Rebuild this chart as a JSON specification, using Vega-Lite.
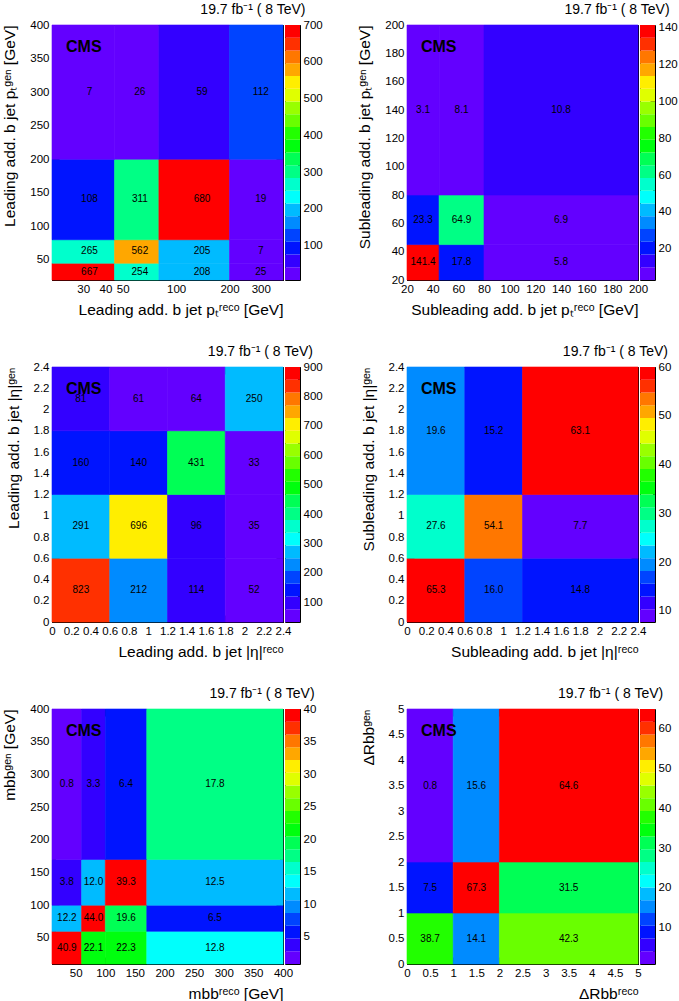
{
  "$schema": "https://vega.github.io/schema/vega-lite/v6.json",
  "background": "white",
  "padding": {"left": 2, "top": 2, "right": 0, "bottom": 0},
  "datasets": {
    "cells": [
      {"p":1,"x0":20,"x1":45,"y0":20,"y1":45,"xm":32.5,"ym":32.5,"v":667},
      {"p":1,"x0":45,"x1":80,"y0":20,"y1":45,"xm":62.5,"ym":32.5,"v":254},
      {"p":1,"x0":80,"x1":200,"y0":20,"y1":45,"xm":140,"ym":32.5,"v":208},
      {"p":1,"x0":200,"x1":400,"y0":20,"y1":45,"xm":300,"ym":32.5,"v":25},
      {"p":1,"x0":20,"x1":45,"y0":45,"y1":80,"xm":32.5,"ym":62.5,"v":265},
      {"p":1,"x0":45,"x1":80,"y0":45,"y1":80,"xm":62.5,"ym":62.5,"v":562},
      {"p":1,"x0":80,"x1":200,"y0":45,"y1":80,"xm":140,"ym":62.5,"v":205},
      {"p":1,"x0":200,"x1":400,"y0":45,"y1":80,"xm":300,"ym":62.5,"v":7},
      {"p":1,"x0":20,"x1":45,"y0":80,"y1":200,"xm":32.5,"ym":140,"v":108},
      {"p":1,"x0":45,"x1":80,"y0":80,"y1":200,"xm":62.5,"ym":140,"v":311},
      {"p":1,"x0":80,"x1":200,"y0":80,"y1":200,"xm":140,"ym":140,"v":680},
      {"p":1,"x0":200,"x1":400,"y0":80,"y1":200,"xm":300,"ym":140,"v":19},
      {"p":1,"x0":20,"x1":45,"y0":200,"y1":400,"xm":32.5,"ym":300,"v":7},
      {"p":1,"x0":45,"x1":80,"y0":200,"y1":400,"xm":62.5,"ym":300,"v":26},
      {"p":1,"x0":80,"x1":200,"y0":200,"y1":400,"xm":140,"ym":300,"v":59},
      {"p":1,"x0":200,"x1":400,"y0":200,"y1":400,"xm":300,"ym":300,"v":112},

      {"p":2,"x0":20,"x1":45,"y0":20,"y1":45,"xm":32.5,"ym":32.5,"v":141.4},
      {"p":2,"x0":45,"x1":80,"y0":20,"y1":45,"xm":62.5,"ym":32.5,"v":17.8},
      {"p":2,"x0":80,"x1":200,"y0":20,"y1":45,"xm":140,"ym":32.5,"v":5.8},
      {"p":2,"x0":20,"x1":45,"y0":45,"y1":80,"xm":32.5,"ym":62.5,"v":23.3},
      {"p":2,"x0":45,"x1":80,"y0":45,"y1":80,"xm":62.5,"ym":62.5,"v":64.9},
      {"p":2,"x0":80,"x1":200,"y0":45,"y1":80,"xm":140,"ym":62.5,"v":6.9},
      {"p":2,"x0":20,"x1":45,"y0":80,"y1":200,"xm":32.5,"ym":140,"v":3.1},
      {"p":2,"x0":45,"x1":80,"y0":80,"y1":200,"xm":62.5,"ym":140,"v":8.1},
      {"p":2,"x0":80,"x1":200,"y0":80,"y1":200,"xm":140,"ym":140,"v":10.8},

      {"p":3,"x0":0,"x1":0.6,"y0":0,"y1":0.6,"xm":0.3,"ym":0.3,"v":823},
      {"p":3,"x0":0.6,"x1":1.2,"y0":0,"y1":0.6,"xm":0.9,"ym":0.3,"v":212},
      {"p":3,"x0":1.2,"x1":1.8,"y0":0,"y1":0.6,"xm":1.5,"ym":0.3,"v":114},
      {"p":3,"x0":1.8,"x1":2.4,"y0":0,"y1":0.6,"xm":2.1,"ym":0.3,"v":52},
      {"p":3,"x0":0,"x1":0.6,"y0":0.6,"y1":1.2,"xm":0.3,"ym":0.9,"v":291},
      {"p":3,"x0":0.6,"x1":1.2,"y0":0.6,"y1":1.2,"xm":0.9,"ym":0.9,"v":696},
      {"p":3,"x0":1.2,"x1":1.8,"y0":0.6,"y1":1.2,"xm":1.5,"ym":0.9,"v":96},
      {"p":3,"x0":1.8,"x1":2.4,"y0":0.6,"y1":1.2,"xm":2.1,"ym":0.9,"v":35},
      {"p":3,"x0":0,"x1":0.6,"y0":1.2,"y1":1.8,"xm":0.3,"ym":1.5,"v":160},
      {"p":3,"x0":0.6,"x1":1.2,"y0":1.2,"y1":1.8,"xm":0.9,"ym":1.5,"v":140},
      {"p":3,"x0":1.2,"x1":1.8,"y0":1.2,"y1":1.8,"xm":1.5,"ym":1.5,"v":431},
      {"p":3,"x0":1.8,"x1":2.4,"y0":1.2,"y1":1.8,"xm":2.1,"ym":1.5,"v":33},
      {"p":3,"x0":0,"x1":0.6,"y0":1.8,"y1":2.4,"xm":0.3,"ym":2.1,"v":81},
      {"p":3,"x0":0.6,"x1":1.2,"y0":1.8,"y1":2.4,"xm":0.9,"ym":2.1,"v":61},
      {"p":3,"x0":1.2,"x1":1.8,"y0":1.8,"y1":2.4,"xm":1.5,"ym":2.1,"v":64},
      {"p":3,"x0":1.8,"x1":2.4,"y0":1.8,"y1":2.4,"xm":2.1,"ym":2.1,"v":250},

      {"p":4,"x0":0,"x1":0.6,"y0":0,"y1":0.6,"xm":0.3,"ym":0.3,"v":65.3},
      {"p":4,"x0":0.6,"x1":1.2,"y0":0,"y1":0.6,"xm":0.9,"ym":0.3,"v":16.0},
      {"p":4,"x0":1.2,"x1":2.4,"y0":0,"y1":0.6,"xm":1.8,"ym":0.3,"v":14.8},
      {"p":4,"x0":0,"x1":0.6,"y0":0.6,"y1":1.2,"xm":0.3,"ym":0.9,"v":27.6},
      {"p":4,"x0":0.6,"x1":1.2,"y0":0.6,"y1":1.2,"xm":0.9,"ym":0.9,"v":54.1},
      {"p":4,"x0":1.2,"x1":2.4,"y0":0.6,"y1":1.2,"xm":1.8,"ym":0.9,"v":7.7},
      {"p":4,"x0":0,"x1":0.6,"y0":1.2,"y1":2.4,"xm":0.3,"ym":1.8,"v":19.6},
      {"p":4,"x0":0.6,"x1":1.2,"y0":1.2,"y1":2.4,"xm":0.9,"ym":1.8,"v":15.2},
      {"p":4,"x0":1.2,"x1":2.4,"y0":1.2,"y1":2.4,"xm":1.8,"ym":1.8,"v":63.1},

      {"p":5,"x0":10,"x1":60,"y0":10,"y1":60,"xm":35,"ym":35,"v":40.9},
      {"p":5,"x0":60,"x1":100,"y0":10,"y1":60,"xm":80,"ym":35,"v":22.1},
      {"p":5,"x0":100,"x1":170,"y0":10,"y1":60,"xm":135,"ym":35,"v":22.3},
      {"p":5,"x0":170,"x1":400,"y0":10,"y1":60,"xm":285,"ym":35,"v":12.8},
      {"p":5,"x0":10,"x1":60,"y0":60,"y1":100,"xm":35,"ym":80,"v":12.2},
      {"p":5,"x0":60,"x1":100,"y0":60,"y1":100,"xm":80,"ym":80,"v":44.0},
      {"p":5,"x0":100,"x1":170,"y0":60,"y1":100,"xm":135,"ym":80,"v":19.6},
      {"p":5,"x0":170,"x1":400,"y0":60,"y1":100,"xm":285,"ym":80,"v":6.5},
      {"p":5,"x0":10,"x1":60,"y0":100,"y1":170,"xm":35,"ym":135,"v":3.8},
      {"p":5,"x0":60,"x1":100,"y0":100,"y1":170,"xm":80,"ym":135,"v":12.0},
      {"p":5,"x0":100,"x1":170,"y0":100,"y1":170,"xm":135,"ym":135,"v":39.3},
      {"p":5,"x0":170,"x1":400,"y0":100,"y1":170,"xm":285,"ym":135,"v":12.5},
      {"p":5,"x0":10,"x1":60,"y0":170,"y1":400,"xm":35,"ym":285,"v":0.8},
      {"p":5,"x0":60,"x1":100,"y0":170,"y1":400,"xm":80,"ym":285,"v":3.3},
      {"p":5,"x0":100,"x1":170,"y0":170,"y1":400,"xm":135,"ym":285,"v":6.4},
      {"p":5,"x0":170,"x1":400,"y0":170,"y1":400,"xm":285,"ym":285,"v":17.8},

      {"p":6,"x0":0,"x1":1,"y0":0,"y1":1,"xm":0.5,"ym":0.5,"v":38.7},
      {"p":6,"x0":1,"x1":2,"y0":0,"y1":1,"xm":1.5,"ym":0.5,"v":14.1},
      {"p":6,"x0":2,"x1":5,"y0":0,"y1":1,"xm":3.5,"ym":0.5,"v":42.3},
      {"p":6,"x0":0,"x1":1,"y0":1,"y1":2,"xm":0.5,"ym":1.5,"v":7.5},
      {"p":6,"x0":1,"x1":2,"y0":1,"y1":2,"xm":1.5,"ym":1.5,"v":67.3},
      {"p":6,"x0":2,"x1":5,"y0":1,"y1":2,"xm":3.5,"ym":1.5,"v":31.5},
      {"p":6,"x0":0,"x1":1,"y0":2,"y1":5,"xm":0.5,"ym":3.5,"v":0.8},
      {"p":6,"x0":1,"x1":2,"y0":2,"y1":5,"xm":1.5,"ym":3.5,"v":15.6},
      {"p":6,"x0":2,"x1":5,"y0":2,"y1":5,"xm":3.5,"ym":3.5,"v":64.6}
    ],
    "bars": [
      {"i":0},{"i":1},{"i":2},{"i":3},{"i":4},{"i":5},{"i":6},{"i":7},{"i":8},{"i":9},
      {"i":10},{"i":11},{"i":12},{"i":13},{"i":14},{"i":15},{"i":16},{"i":17},{"i":18},{"i":19}
    ]
  },
  "config": {
    "font": "Liberation Sans",
    "view": {"stroke": "black", "strokeWidth": 1},
    "title": {"font": "Liberation Sans", "fontSize": 14, "fontWeight": "normal", "color": "black", "anchor": "end", "offset": 2.5},
    "axis": {
      "grid": false, "domainColor": "black", "tickColor": "black", "labelColor": "black", "titleColor": "black",
      "labelFont": "Liberation Sans", "titleFont": "Liberation Sans", "labelFontSize": 11.5, "titleFontSize": 15.5,
      "titleFontWeight": "normal", "tickSize": -7, "labelPadding": 10, "labelOverlap": false, "labelFlush": false, "labelBound": false,
      "titleAnchor": "end"
    },
    "axisLeft": {"titlePadding": 12},
    "rect": {"strokeWidth": 0.6},
    "text": {"font": "Liberation Sans", "color": "black"}
  },
  "columns": 5,
  "spacing": {"row": 87, "column": 2},
  "bounds": "flush",
  "align": "each",
  "resolve": {"scale": {"color": "independent", "stroke": "independent"}},
  "concat": [
    {
      "width": 231, "height": 255,
      "title": {"text": "19.7 fb⁻¹ ( 8 TeV)", "dx": 22},
      "data": {"name": "cells"},
      "transform": [{"filter": "datum.p == 1"}],
      "layer": [
        {"mark": "rect", "encoding": {
          "x": {"field": "x0", "type": "quantitative", "scale": {"type": "log", "domain": [20, 400], "nice": false}, "axis": {"values": [20,30,40,50,60,70,80,90,100,200,300,400], "format": "d", "labelExpr": "indexof([30,40,50,100,200,300], datum.value) >= 0 ? datum.label : ''", "tickSize": {"condition": {"test": "indexof([30,40,50,100,200,300], datum.value) >= 0", "value": -7}, "value": -3.5}, "title": "Leading add. b jet pₜʳᵉᶜᵒ [GeV]"}},
          "x2": {"field": "x1"},
          "y": {"field": "y0", "type": "quantitative", "scale": {"domain": [20, 400], "nice": false, "zero": false}, "axis": {"values": [20,30,40,50,60,70,80,90,100,110,120,130,140,150,160,170,180,190,200,210,220,230,240,250,260,270,280,290,300,310,320,330,340,350,360,370,380,390,400], "labelExpr": "datum.value % 50 === 0 ? datum.label : ''", "tickSize": {"condition": {"test": "datum.value % 50 === 0", "value": -7}, "value": -3.5}, "title": "Leading add. b jet pₜᵍᵉⁿ [GeV]"}},
          "y2": {"field": "y1"},
          "color": {"field": "v", "type": "quantitative", "scale": {"type": "quantize", "domain": [7, 700], "nice": false, "range": ["#6300ff","#3300ff","#0014ff","#0044ff","#008bff","#00bbff","#00fffc","#00ffcc","#00ff85","#00ff55","#00ff0e","#22ff00","#69ff00","#99ff00","#e0ff00","#ffee00","#ffa700","#ff7700","#ff3000","#ff0000"]}, "legend": null},
          "stroke": {"field": "v", "type": "quantitative", "scale": {"type": "quantize", "domain": [7, 700], "nice": false, "range": ["#6300ff","#3300ff","#0014ff","#0044ff","#008bff","#00bbff","#00fffc","#00ffcc","#00ff85","#00ff55","#00ff0e","#22ff00","#69ff00","#99ff00","#e0ff00","#ffee00","#ffa700","#ff7700","#ff3000","#ff0000"]}, "legend": null}
        }},
        {"mark": {"type": "text", "fontSize": 10}, "encoding": {
          "x": {"field": "xm", "type": "quantitative", "axis": {"orient": "top", "values": [20,30,40,50,60,70,80,90,100,200,300,400], "tickSize": {"condition": {"test": "indexof([30,40,50,100,200,300], datum.value) >= 0", "value": -7}, "value": -3.5}, "labels": false, "title": null, "domain": false}},
          "y": {"field": "ym", "type": "quantitative", "axis": {"orient": "right", "values": [20,30,40,50,60,70,80,90,100,110,120,130,140,150,160,170,180,190,200,210,220,230,240,250,260,270,280,290,300,310,320,330,340,350,360,370,380,390,400], "tickSize": {"condition": {"test": "datum.value % 50 === 0", "value": -7}, "value": -3.5}, "labels": false, "title": null, "domain": false}},
          "text": {"field": "v", "type": "quantitative", "format": "d"}
        }},
        {"data": {"values": [{}]}, "mark": {"type": "text", "text": "CMS", "fontSize": 16, "fontWeight": "bold", "align": "left", "baseline": "alphabetic"}, "encoding": {
          "x": {"datum": 24, "type": "quantitative", "axis": null},
          "y": {"datum": 360, "type": "quantitative", "axis": null}
        }}
      ],
      "resolve": {"axis": {"x": "independent", "y": "independent"}}
    },
    {
      "width": 15, "height": 255,
      "data": {"name": "bars"},
      "layer": [
        {"mark": "rect", "encoding": {
          "y": {"field": "i", "type": "ordinal", "sort": "descending", "scale": {"paddingInner": 0, "paddingOuter": 0}, "axis": null},
          "color": {"field": "i", "type": "ordinal", "scale": {"range": ["#6300ff","#3300ff","#0014ff","#0044ff","#008bff","#00bbff","#00fffc","#00ffcc","#00ff85","#00ff55","#00ff0e","#22ff00","#69ff00","#99ff00","#e0ff00","#ffee00","#ffa700","#ff7700","#ff3000","#ff0000"]}, "legend": null}
        }},
        {"mark": {"type": "point", "opacity": 0}, "encoding": {
          "y": {"datum": 100, "type": "quantitative", "scale": {"domain": [7, 700], "nice": false, "zero": false}, "axis": {"orient": "right", "values": [20,40,60,80,100,120,140,160,180,200,220,240,260,280,300,320,340,360,380,400,420,440,460,480,500,520,540,560,580,600,620,640,660,680,700], "labelExpr": "datum.value % 100 === 0 ? datum.label : ''", "tickSize": {"condition": {"test": "datum.value % 100 === 0", "value": -5}, "value": -2.5}, "title": null, "domain": false, "labelPadding": 8}}
        }}
      ],
      "resolve": {"scale": {"y": "independent"}}
    },
    {"width": 102.7, "height": 255, "view": {"stroke": null}, "data": {"values": []}, "mark": "point", "encoding": {}},
    {
      "width": 231, "height": 255,
      "title": {"text": "19.7 fb⁻¹ ( 8 TeV)", "dx": 22},
      "data": {"name": "cells"},
      "transform": [{"filter": "datum.p == 2"}],
      "layer": [
        {"mark": "rect", "encoding": {
          "x": {"field": "x0", "type": "quantitative", "scale": {"domain": [20, 200], "nice": false, "zero": false}, "axis": {"values": [20,24,28,32,36,40,44,48,52,56,60,64,68,72,76,80,84,88,92,96,100,104,108,112,116,120,124,128,132,136,140,144,148,152,156,160,164,168,172,176,180,184,188,192,196,200], "format": "d", "labelExpr": "datum.value % 20 === 0 ? datum.label : ''", "tickSize": {"condition": {"test": "datum.value % 20 === 0", "value": -7}, "value": -3.5}, "title": "Subleading add. b jet pₜʳᵉᶜᵒ [GeV]"}},
          "x2": {"field": "x1"},
          "y": {"field": "y0", "type": "quantitative", "scale": {"domain": [20, 200], "nice": false, "zero": false}, "axis": {"values": [20,24,28,32,36,40,44,48,52,56,60,64,68,72,76,80,84,88,92,96,100,104,108,112,116,120,124,128,132,136,140,144,148,152,156,160,164,168,172,176,180,184,188,192,196,200], "labelExpr": "datum.value % 20 === 0 ? datum.label : ''", "tickSize": {"condition": {"test": "datum.value % 20 === 0", "value": -7}, "value": -3.5}, "title": "Subleading add. b jet pₜᵍᵉⁿ [GeV]"}},
          "y2": {"field": "y1"},
          "color": {"field": "v", "type": "quantitative", "scale": {"type": "quantize", "domain": [3.1, 141.4], "nice": false, "range": ["#6300ff","#3300ff","#0014ff","#0044ff","#008bff","#00bbff","#00fffc","#00ffcc","#00ff85","#00ff55","#00ff0e","#22ff00","#69ff00","#99ff00","#e0ff00","#ffee00","#ffa700","#ff7700","#ff3000","#ff0000"]}, "legend": null},
          "stroke": {"field": "v", "type": "quantitative", "scale": {"type": "quantize", "domain": [3.1, 141.4], "nice": false, "range": ["#6300ff","#3300ff","#0014ff","#0044ff","#008bff","#00bbff","#00fffc","#00ffcc","#00ff85","#00ff55","#00ff0e","#22ff00","#69ff00","#99ff00","#e0ff00","#ffee00","#ffa700","#ff7700","#ff3000","#ff0000"]}, "legend": null}
        }},
        {"mark": {"type": "text", "fontSize": 10}, "encoding": {
          "x": {"field": "xm", "type": "quantitative", "axis": {"orient": "top", "values": [20,24,28,32,36,40,44,48,52,56,60,64,68,72,76,80,84,88,92,96,100,104,108,112,116,120,124,128,132,136,140,144,148,152,156,160,164,168,172,176,180,184,188,192,196,200], "tickSize": {"condition": {"test": "datum.value % 20 === 0", "value": -7}, "value": -3.5}, "labels": false, "title": null, "domain": false}},
          "y": {"field": "ym", "type": "quantitative", "axis": {"orient": "right", "values": [20,24,28,32,36,40,44,48,52,56,60,64,68,72,76,80,84,88,92,96,100,104,108,112,116,120,124,128,132,136,140,144,148,152,156,160,164,168,172,176,180,184,188,192,196,200], "tickSize": {"condition": {"test": "datum.value % 20 === 0", "value": -7}, "value": -3.5}, "labels": false, "title": null, "domain": false}},
          "text": {"field": "v", "type": "quantitative", "format": ".1f"}
        }},
        {"data": {"values": [{}]}, "mark": {"type": "text", "text": "CMS", "fontSize": 16, "fontWeight": "bold", "align": "left", "baseline": "alphabetic"}, "encoding": {
          "x": {"datum": 30.9, "type": "quantitative", "axis": null},
          "y": {"datum": 181.2, "type": "quantitative", "axis": null}
        }}
      ],
      "resolve": {"axis": {"x": "independent", "y": "independent"}}
    },
    {
      "width": 15, "height": 255,
      "data": {"name": "bars"},
      "layer": [
        {"mark": "rect", "encoding": {
          "y": {"field": "i", "type": "ordinal", "sort": "descending", "scale": {"paddingInner": 0, "paddingOuter": 0}, "axis": null},
          "color": {"field": "i", "type": "ordinal", "scale": {"range": ["#6300ff","#3300ff","#0014ff","#0044ff","#008bff","#00bbff","#00fffc","#00ffcc","#00ff85","#00ff55","#00ff0e","#22ff00","#69ff00","#99ff00","#e0ff00","#ffee00","#ffa700","#ff7700","#ff3000","#ff0000"]}, "legend": null}
        }},
        {"mark": {"type": "point", "opacity": 0}, "encoding": {
          "y": {"datum": 20, "type": "quantitative", "scale": {"domain": [3.1, 141.4], "nice": false, "zero": false}, "axis": {"orient": "right", "values": [4,8,12,16,20,24,28,32,36,40,44,48,52,56,60,64,68,72,76,80,84,88,92,96,100,104,108,112,116,120,124,128,132,136,140], "labelExpr": "datum.value % 20 === 0 ? datum.label : ''", "tickSize": {"condition": {"test": "datum.value % 20 === 0", "value": -5}, "value": -2.5}, "title": null, "domain": false, "labelPadding": 8}}
        }}
      ],
      "resolve": {"scale": {"y": "independent"}}
    },
    {
      "width": 231, "height": 255,
      "title": {"text": "19.7 fb⁻¹ ( 8 TeV)", "dx": 22},
      "data": {"name": "cells"},
      "transform": [{"filter": "datum.p == 3"}],
      "layer": [
        {"mark": "rect", "encoding": {
          "x": {"field": "x0", "type": "quantitative", "scale": {"domain": [0, 2.4], "nice": false}, "axis": {"values": [0,0.05,0.1,0.15,0.2,0.25,0.3,0.35,0.4,0.45,0.5,0.55,0.6,0.65,0.7,0.75,0.8,0.85,0.9,0.95,1,1.05,1.1,1.15,1.2,1.25,1.3,1.35,1.4,1.45,1.5,1.55,1.6,1.65,1.7,1.75,1.8,1.85,1.9,1.95,2,2.05,2.1,2.15,2.2,2.25,2.3,2.35,2.4], "format": "~g", "labelExpr": "abs(datum.value*5 - round(datum.value*5)) < 1e-6 ? datum.label : ''", "tickSize": {"condition": {"test": "abs(datum.value*5 - round(datum.value*5)) < 1e-6", "value": -7}, "value": -3.5}, "title": "Leading add. b jet |η|ʳᵉᶜᵒ"}},
          "x2": {"field": "x1"},
          "y": {"field": "y0", "type": "quantitative", "scale": {"domain": [0, 2.4], "nice": false}, "axis": {"values": [0,0.05,0.1,0.15,0.2,0.25,0.3,0.35,0.4,0.45,0.5,0.55,0.6,0.65,0.7,0.75,0.8,0.85,0.9,0.95,1,1.05,1.1,1.15,1.2,1.25,1.3,1.35,1.4,1.45,1.5,1.55,1.6,1.65,1.7,1.75,1.8,1.85,1.9,1.95,2,2.05,2.1,2.15,2.2,2.25,2.3,2.35,2.4], "format": "~g", "labelExpr": "abs(datum.value*5 - round(datum.value*5)) < 1e-6 ? datum.label : ''", "tickSize": {"condition": {"test": "abs(datum.value*5 - round(datum.value*5)) < 1e-6", "value": -7}, "value": -3.5}, "title": "Leading add. b jet |η|ᵍᵉⁿ"}},
          "y2": {"field": "y1"},
          "color": {"field": "v", "type": "quantitative", "scale": {"type": "quantize", "domain": [33, 900], "nice": false, "range": ["#6300ff","#3300ff","#0014ff","#0044ff","#008bff","#00bbff","#00fffc","#00ffcc","#00ff85","#00ff55","#00ff0e","#22ff00","#69ff00","#99ff00","#e0ff00","#ffee00","#ffa700","#ff7700","#ff3000","#ff0000"]}, "legend": null},
          "stroke": {"field": "v", "type": "quantitative", "scale": {"type": "quantize", "domain": [33, 900], "nice": false, "range": ["#6300ff","#3300ff","#0014ff","#0044ff","#008bff","#00bbff","#00fffc","#00ffcc","#00ff85","#00ff55","#00ff0e","#22ff00","#69ff00","#99ff00","#e0ff00","#ffee00","#ffa700","#ff7700","#ff3000","#ff0000"]}, "legend": null}
        }},
        {"mark": {"type": "text", "fontSize": 10}, "encoding": {
          "x": {"field": "xm", "type": "quantitative", "axis": {"orient": "top", "values": [0,0.05,0.1,0.15,0.2,0.25,0.3,0.35,0.4,0.45,0.5,0.55,0.6,0.65,0.7,0.75,0.8,0.85,0.9,0.95,1,1.05,1.1,1.15,1.2,1.25,1.3,1.35,1.4,1.45,1.5,1.55,1.6,1.65,1.7,1.75,1.8,1.85,1.9,1.95,2,2.05,2.1,2.15,2.2,2.25,2.3,2.35,2.4], "tickSize": {"condition": {"test": "abs(datum.value*5 - round(datum.value*5)) < 1e-6", "value": -7}, "value": -3.5}, "labels": false, "title": null, "domain": false}},
          "y": {"field": "ym", "type": "quantitative", "axis": {"orient": "right", "values": [0,0.05,0.1,0.15,0.2,0.25,0.3,0.35,0.4,0.45,0.5,0.55,0.6,0.65,0.7,0.75,0.8,0.85,0.9,0.95,1,1.05,1.1,1.15,1.2,1.25,1.3,1.35,1.4,1.45,1.5,1.55,1.6,1.65,1.7,1.75,1.8,1.85,1.9,1.95,2,2.05,2.1,2.15,2.2,2.25,2.3,2.35,2.4], "tickSize": {"condition": {"test": "abs(datum.value*5 - round(datum.value*5)) < 1e-6", "value": -7}, "value": -3.5}, "labels": false, "title": null, "domain": false}},
          "text": {"field": "v", "type": "quantitative", "format": "d"}
        }},
        {"data": {"values": [{}]}, "mark": {"type": "text", "text": "CMS", "fontSize": 16, "fontWeight": "bold", "align": "left", "baseline": "alphabetic"}, "encoding": {
          "x": {"datum": 0.145, "type": "quantitative", "axis": null},
          "y": {"datum": 2.149, "type": "quantitative", "axis": null}
        }}
      ],
      "resolve": {"axis": {"x": "independent", "y": "independent"}}
    },
    {
      "width": 15, "height": 255,
      "data": {"name": "bars"},
      "layer": [
        {"mark": "rect", "encoding": {
          "y": {"field": "i", "type": "ordinal", "sort": "descending", "scale": {"paddingInner": 0, "paddingOuter": 0}, "axis": null},
          "color": {"field": "i", "type": "ordinal", "scale": {"range": ["#6300ff","#3300ff","#0014ff","#0044ff","#008bff","#00bbff","#00fffc","#00ffcc","#00ff85","#00ff55","#00ff0e","#22ff00","#69ff00","#99ff00","#e0ff00","#ffee00","#ffa700","#ff7700","#ff3000","#ff0000"]}, "legend": null}
        }},
        {"mark": {"type": "point", "opacity": 0}, "encoding": {
          "y": {"datum": 100, "type": "quantitative", "scale": {"domain": [33, 900], "nice": false, "zero": false}, "axis": {"orient": "right", "values": [40,60,80,100,120,140,160,180,200,220,240,260,280,300,320,340,360,380,400,420,440,460,480,500,520,540,560,580,600,620,640,660,680,700,720,740,760,780,800,820,840,860,880,900], "labelExpr": "datum.value % 100 === 0 ? datum.label : ''", "tickSize": {"condition": {"test": "datum.value % 100 === 0", "value": -5}, "value": -2.5}, "title": null, "domain": false, "labelPadding": 8}}
        }}
      ],
      "resolve": {"scale": {"y": "independent"}}
    },
    {"width": 102.7, "height": 255, "view": {"stroke": null}, "data": {"values": []}, "mark": "point", "encoding": {}},
    {
      "width": 231, "height": 255,
      "title": {"text": "19.7 fb⁻¹ ( 8 TeV)", "dx": 22},
      "data": {"name": "cells"},
      "transform": [{"filter": "datum.p == 4"}],
      "layer": [
        {"mark": "rect", "encoding": {
          "x": {"field": "x0", "type": "quantitative", "scale": {"domain": [0, 2.4], "nice": false}, "axis": {"values": [0,0.05,0.1,0.15,0.2,0.25,0.3,0.35,0.4,0.45,0.5,0.55,0.6,0.65,0.7,0.75,0.8,0.85,0.9,0.95,1,1.05,1.1,1.15,1.2,1.25,1.3,1.35,1.4,1.45,1.5,1.55,1.6,1.65,1.7,1.75,1.8,1.85,1.9,1.95,2,2.05,2.1,2.15,2.2,2.25,2.3,2.35,2.4], "format": "~g", "labelExpr": "abs(datum.value*5 - round(datum.value*5)) < 1e-6 ? datum.label : ''", "tickSize": {"condition": {"test": "abs(datum.value*5 - round(datum.value*5)) < 1e-6", "value": -7}, "value": -3.5}, "title": "Subleading add. b jet |η|ʳᵉᶜᵒ"}},
          "x2": {"field": "x1"},
          "y": {"field": "y0", "type": "quantitative", "scale": {"domain": [0, 2.4], "nice": false}, "axis": {"values": [0,0.05,0.1,0.15,0.2,0.25,0.3,0.35,0.4,0.45,0.5,0.55,0.6,0.65,0.7,0.75,0.8,0.85,0.9,0.95,1,1.05,1.1,1.15,1.2,1.25,1.3,1.35,1.4,1.45,1.5,1.55,1.6,1.65,1.7,1.75,1.8,1.85,1.9,1.95,2,2.05,2.1,2.15,2.2,2.25,2.3,2.35,2.4], "format": "~g", "labelExpr": "abs(datum.value*5 - round(datum.value*5)) < 1e-6 ? datum.label : ''", "tickSize": {"condition": {"test": "abs(datum.value*5 - round(datum.value*5)) < 1e-6", "value": -7}, "value": -3.5}, "title": "Subleading add. b jet |η|ᵍᵉⁿ"}},
          "y2": {"field": "y1"},
          "color": {"field": "v", "type": "quantitative", "scale": {"type": "quantize", "domain": [7.7, 60], "nice": false, "range": ["#6300ff","#3300ff","#0014ff","#0044ff","#008bff","#00bbff","#00fffc","#00ffcc","#00ff85","#00ff55","#00ff0e","#22ff00","#69ff00","#99ff00","#e0ff00","#ffee00","#ffa700","#ff7700","#ff3000","#ff0000"]}, "legend": null},
          "stroke": {"field": "v", "type": "quantitative", "scale": {"type": "quantize", "domain": [7.7, 60], "nice": false, "range": ["#6300ff","#3300ff","#0014ff","#0044ff","#008bff","#00bbff","#00fffc","#00ffcc","#00ff85","#00ff55","#00ff0e","#22ff00","#69ff00","#99ff00","#e0ff00","#ffee00","#ffa700","#ff7700","#ff3000","#ff0000"]}, "legend": null}
        }},
        {"mark": {"type": "text", "fontSize": 10}, "encoding": {
          "x": {"field": "xm", "type": "quantitative", "axis": {"orient": "top", "values": [0,0.05,0.1,0.15,0.2,0.25,0.3,0.35,0.4,0.45,0.5,0.55,0.6,0.65,0.7,0.75,0.8,0.85,0.9,0.95,1,1.05,1.1,1.15,1.2,1.25,1.3,1.35,1.4,1.45,1.5,1.55,1.6,1.65,1.7,1.75,1.8,1.85,1.9,1.95,2,2.05,2.1,2.15,2.2,2.25,2.3,2.35,2.4], "tickSize": {"condition": {"test": "abs(datum.value*5 - round(datum.value*5)) < 1e-6", "value": -7}, "value": -3.5}, "labels": false, "title": null, "domain": false}},
          "y": {"field": "ym", "type": "quantitative", "axis": {"orient": "right", "values": [0,0.05,0.1,0.15,0.2,0.25,0.3,0.35,0.4,0.45,0.5,0.55,0.6,0.65,0.7,0.75,0.8,0.85,0.9,0.95,1,1.05,1.1,1.15,1.2,1.25,1.3,1.35,1.4,1.45,1.5,1.55,1.6,1.65,1.7,1.75,1.8,1.85,1.9,1.95,2,2.05,2.1,2.15,2.2,2.25,2.3,2.35,2.4], "tickSize": {"condition": {"test": "abs(datum.value*5 - round(datum.value*5)) < 1e-6", "value": -7}, "value": -3.5}, "labels": false, "title": null, "domain": false}},
          "text": {"field": "v", "type": "quantitative", "format": ".1f"}
        }},
        {"data": {"values": [{}]}, "mark": {"type": "text", "text": "CMS", "fontSize": 16, "fontWeight": "bold", "align": "left", "baseline": "alphabetic"}, "encoding": {
          "x": {"datum": 0.145, "type": "quantitative", "axis": null},
          "y": {"datum": 2.149, "type": "quantitative", "axis": null}
        }}
      ],
      "resolve": {"axis": {"x": "independent", "y": "independent"}}
    },
    {
      "width": 15, "height": 255,
      "data": {"name": "bars"},
      "layer": [
        {"mark": "rect", "encoding": {
          "y": {"field": "i", "type": "ordinal", "sort": "descending", "scale": {"paddingInner": 0, "paddingOuter": 0}, "axis": null},
          "color": {"field": "i", "type": "ordinal", "scale": {"range": ["#6300ff","#3300ff","#0014ff","#0044ff","#008bff","#00bbff","#00fffc","#00ffcc","#00ff85","#00ff55","#00ff0e","#22ff00","#69ff00","#99ff00","#e0ff00","#ffee00","#ffa700","#ff7700","#ff3000","#ff0000"]}, "legend": null}
        }},
        {"mark": {"type": "point", "opacity": 0}, "encoding": {
          "y": {"datum": 10, "type": "quantitative", "scale": {"domain": [7.7, 60], "nice": false, "zero": false}, "axis": {"orient": "right", "values": [8,10,12,14,16,18,20,22,24,26,28,30,32,34,36,38,40,42,44,46,48,50,52,54,56,58,60], "labelExpr": "datum.value % 10 === 0 ? datum.label : ''", "tickSize": {"condition": {"test": "datum.value % 10 === 0", "value": -5}, "value": -2.5}, "title": null, "domain": false, "labelPadding": 8}}
        }}
      ],
      "resolve": {"scale": {"y": "independent"}}
    },
    {
      "width": 231, "height": 255,
      "title": {"text": "19.7 fb⁻¹ ( 8 TeV)", "dx": 22},
      "data": {"name": "cells"},
      "transform": [{"filter": "datum.p == 5"}],
      "layer": [
        {"mark": "rect", "encoding": {
          "x": {"field": "x0", "type": "quantitative", "scale": {"domain": [10, 400], "nice": false, "zero": false}, "axis": {"values": [10,20,30,40,50,60,70,80,90,100,110,120,130,140,150,160,170,180,190,200,210,220,230,240,250,260,270,280,290,300,310,320,330,340,350,360,370,380,390,400], "format": "d", "labelExpr": "datum.value % 50 === 0 ? datum.label : ''", "tickSize": {"condition": {"test": "datum.value % 50 === 0", "value": -7}, "value": -3.5}, "title": "mbbʳᵉᶜᵒ [GeV]"}},
          "x2": {"field": "x1"},
          "y": {"field": "y0", "type": "quantitative", "scale": {"domain": [10, 400], "nice": false, "zero": false}, "axis": {"values": [10,20,30,40,50,60,70,80,90,100,110,120,130,140,150,160,170,180,190,200,210,220,230,240,250,260,270,280,290,300,310,320,330,340,350,360,370,380,390,400], "labelExpr": "datum.value % 50 === 0 ? datum.label : ''", "tickSize": {"condition": {"test": "datum.value % 50 === 0", "value": -7}, "value": -3.5}, "title": "mbbᵍᵉⁿ [GeV]"}},
          "y2": {"field": "y1"},
          "color": {"field": "v", "type": "quantitative", "scale": {"type": "quantize", "domain": [0.8, 40], "nice": false, "range": ["#6300ff","#3300ff","#0014ff","#0044ff","#008bff","#00bbff","#00fffc","#00ffcc","#00ff85","#00ff55","#00ff0e","#22ff00","#69ff00","#99ff00","#e0ff00","#ffee00","#ffa700","#ff7700","#ff3000","#ff0000"]}, "legend": null},
          "stroke": {"field": "v", "type": "quantitative", "scale": {"type": "quantize", "domain": [0.8, 40], "nice": false, "range": ["#6300ff","#3300ff","#0014ff","#0044ff","#008bff","#00bbff","#00fffc","#00ffcc","#00ff85","#00ff55","#00ff0e","#22ff00","#69ff00","#99ff00","#e0ff00","#ffee00","#ffa700","#ff7700","#ff3000","#ff0000"]}, "legend": null}
        }},
        {"mark": {"type": "text", "fontSize": 10}, "encoding": {
          "x": {"field": "xm", "type": "quantitative", "axis": {"orient": "top", "values": [10,20,30,40,50,60,70,80,90,100,110,120,130,140,150,160,170,180,190,200,210,220,230,240,250,260,270,280,290,300,310,320,330,340,350,360,370,380,390,400], "tickSize": {"condition": {"test": "datum.value % 50 === 0", "value": -7}, "value": -3.5}, "labels": false, "title": null, "domain": false}},
          "y": {"field": "ym", "type": "quantitative", "axis": {"orient": "right", "values": [10,20,30,40,50,60,70,80,90,100,110,120,130,140,150,160,170,180,190,200,210,220,230,240,250,260,270,280,290,300,310,320,330,340,350,360,370,380,390,400], "tickSize": {"condition": {"test": "datum.value % 50 === 0", "value": -7}, "value": -3.5}, "labels": false, "title": null, "domain": false}},
          "text": {"field": "v", "type": "quantitative", "format": ".1f"}
        }},
        {"data": {"values": [{}]}, "mark": {"type": "text", "text": "CMS", "fontSize": 16, "fontWeight": "bold", "align": "left", "baseline": "alphabetic"}, "encoding": {
          "x": {"datum": 33.6, "type": "quantitative", "axis": null},
          "y": {"datum": 359.2, "type": "quantitative", "axis": null}
        }}
      ],
      "resolve": {"axis": {"x": "independent", "y": "independent"}}
    },
    {
      "width": 15, "height": 255,
      "data": {"name": "bars"},
      "layer": [
        {"mark": "rect", "encoding": {
          "y": {"field": "i", "type": "ordinal", "sort": "descending", "scale": {"paddingInner": 0, "paddingOuter": 0}, "axis": null},
          "color": {"field": "i", "type": "ordinal", "scale": {"range": ["#6300ff","#3300ff","#0014ff","#0044ff","#008bff","#00bbff","#00fffc","#00ffcc","#00ff85","#00ff55","#00ff0e","#22ff00","#69ff00","#99ff00","#e0ff00","#ffee00","#ffa700","#ff7700","#ff3000","#ff0000"]}, "legend": null}
        }},
        {"mark": {"type": "point", "opacity": 0}, "encoding": {
          "y": {"datum": 5, "type": "quantitative", "scale": {"domain": [0.8, 40], "nice": false, "zero": false}, "axis": {"orient": "right", "values": [1,2,3,4,5,6,7,8,9,10,11,12,13,14,15,16,17,18,19,20,21,22,23,24,25,26,27,28,29,30,31,32,33,34,35,36,37,38,39,40], "labelExpr": "datum.value % 5 === 0 ? datum.label : ''", "tickSize": {"condition": {"test": "datum.value % 5 === 0", "value": -5}, "value": -2.5}, "title": null, "domain": false, "labelPadding": 8}}
        }}
      ],
      "resolve": {"scale": {"y": "independent"}}
    },
    {"width": 102.7, "height": 255, "view": {"stroke": null}, "data": {"values": []}, "mark": "point", "encoding": {}},
    {
      "width": 231, "height": 255,
      "title": {"text": "19.7 fb⁻¹ ( 8 TeV)", "dx": 22},
      "data": {"name": "cells"},
      "transform": [{"filter": "datum.p == 6"}],
      "layer": [
        {"mark": "rect", "encoding": {
          "x": {"field": "x0", "type": "quantitative", "scale": {"domain": [0, 5], "nice": false}, "axis": {"values": [0,0.1,0.2,0.3,0.4,0.5,0.6,0.7,0.8,0.9,1,1.1,1.2,1.3,1.4,1.5,1.6,1.7,1.8,1.9,2,2.1,2.2,2.3,2.4,2.5,2.6,2.7,2.8,2.9,3,3.1,3.2,3.3,3.4,3.5,3.6,3.7,3.8,3.9,4,4.1,4.2,4.3,4.4,4.5,4.6,4.7,4.8,4.9,5], "format": "~g", "labelExpr": "abs(datum.value*2 - round(datum.value*2)) < 1e-6 ? datum.label : ''", "tickSize": {"condition": {"test": "abs(datum.value*2 - round(datum.value*2)) < 1e-6", "value": -7}, "value": -3.5}, "title": "ΔRbbʳᵉᶜᵒ"}},
          "x2": {"field": "x1"},
          "y": {"field": "y0", "type": "quantitative", "scale": {"domain": [0, 5], "nice": false}, "axis": {"values": [0,0.1,0.2,0.3,0.4,0.5,0.6,0.7,0.8,0.9,1,1.1,1.2,1.3,1.4,1.5,1.6,1.7,1.8,1.9,2,2.1,2.2,2.3,2.4,2.5,2.6,2.7,2.8,2.9,3,3.1,3.2,3.3,3.4,3.5,3.6,3.7,3.8,3.9,4,4.1,4.2,4.3,4.4,4.5,4.6,4.7,4.8,4.9,5], "format": "~g", "labelExpr": "abs(datum.value*2 - round(datum.value*2)) < 1e-6 ? datum.label : ''", "tickSize": {"condition": {"test": "abs(datum.value*2 - round(datum.value*2)) < 1e-6", "value": -7}, "value": -3.5}, "title": "ΔRbbᵍᵉⁿ"}},
          "y2": {"field": "y1"},
          "color": {"field": "v", "type": "quantitative", "scale": {"type": "quantize", "domain": [0.8, 65], "nice": false, "range": ["#6300ff","#3300ff","#0014ff","#0044ff","#008bff","#00bbff","#00fffc","#00ffcc","#00ff85","#00ff55","#00ff0e","#22ff00","#69ff00","#99ff00","#e0ff00","#ffee00","#ffa700","#ff7700","#ff3000","#ff0000"]}, "legend": null},
          "stroke": {"field": "v", "type": "quantitative", "scale": {"type": "quantize", "domain": [0.8, 65], "nice": false, "range": ["#6300ff","#3300ff","#0014ff","#0044ff","#008bff","#00bbff","#00fffc","#00ffcc","#00ff85","#00ff55","#00ff0e","#22ff00","#69ff00","#99ff00","#e0ff00","#ffee00","#ffa700","#ff7700","#ff3000","#ff0000"]}, "legend": null}
        }},
        {"mark": {"type": "text", "fontSize": 10}, "encoding": {
          "x": {"field": "xm", "type": "quantitative", "axis": {"orient": "top", "values": [0,0.1,0.2,0.3,0.4,0.5,0.6,0.7,0.8,0.9,1,1.1,1.2,1.3,1.4,1.5,1.6,1.7,1.8,1.9,2,2.1,2.2,2.3,2.4,2.5,2.6,2.7,2.8,2.9,3,3.1,3.2,3.3,3.4,3.5,3.6,3.7,3.8,3.9,4,4.1,4.2,4.3,4.4,4.5,4.6,4.7,4.8,4.9,5], "tickSize": {"condition": {"test": "abs(datum.value*2 - round(datum.value*2)) < 1e-6", "value": -7}, "value": -3.5}, "labels": false, "title": null, "domain": false}},
          "y": {"field": "ym", "type": "quantitative", "axis": {"orient": "right", "values": [0,0.1,0.2,0.3,0.4,0.5,0.6,0.7,0.8,0.9,1,1.1,1.2,1.3,1.4,1.5,1.6,1.7,1.8,1.9,2,2.1,2.2,2.3,2.4,2.5,2.6,2.7,2.8,2.9,3,3.1,3.2,3.3,3.4,3.5,3.6,3.7,3.8,3.9,4,4.1,4.2,4.3,4.4,4.5,4.6,4.7,4.8,4.9,5], "tickSize": {"condition": {"test": "abs(datum.value*2 - round(datum.value*2)) < 1e-6", "value": -7}, "value": -3.5}, "labels": false, "title": null, "domain": false}},
          "text": {"field": "v", "type": "quantitative", "format": ".1f"}
        }},
        {"data": {"values": [{}]}, "mark": {"type": "text", "text": "CMS", "fontSize": 16, "fontWeight": "bold", "align": "left", "baseline": "alphabetic"}, "encoding": {
          "x": {"datum": 0.303, "type": "quantitative", "axis": null},
          "y": {"datum": 4.476, "type": "quantitative", "axis": null}
        }}
      ],
      "resolve": {"axis": {"x": "independent", "y": "independent"}}
    },
    {
      "width": 15, "height": 255,
      "data": {"name": "bars"},
      "layer": [
        {"mark": "rect", "encoding": {
          "y": {"field": "i", "type": "ordinal", "sort": "descending", "scale": {"paddingInner": 0, "paddingOuter": 0}, "axis": null},
          "color": {"field": "i", "type": "ordinal", "scale": {"range": ["#6300ff","#3300ff","#0014ff","#0044ff","#008bff","#00bbff","#00fffc","#00ffcc","#00ff85","#00ff55","#00ff0e","#22ff00","#69ff00","#99ff00","#e0ff00","#ffee00","#ffa700","#ff7700","#ff3000","#ff0000"]}, "legend": null}
        }},
        {"mark": {"type": "point", "opacity": 0}, "encoding": {
          "y": {"datum": 10, "type": "quantitative", "scale": {"domain": [0.8, 65], "nice": false, "zero": false}, "axis": {"orient": "right", "values": [2,4,6,8,10,12,14,16,18,20,22,24,26,28,30,32,34,36,38,40,42,44,46,48,50,52,54,56,58,60,62,64], "labelExpr": "datum.value % 10 === 0 ? datum.label : ''", "tickSize": {"condition": {"test": "datum.value % 10 === 0", "value": -5}, "value": -2.5}, "title": null, "domain": false, "labelPadding": 8}}
        }}
      ],
      "resolve": {"scale": {"y": "independent"}}
    }
  ]
}
